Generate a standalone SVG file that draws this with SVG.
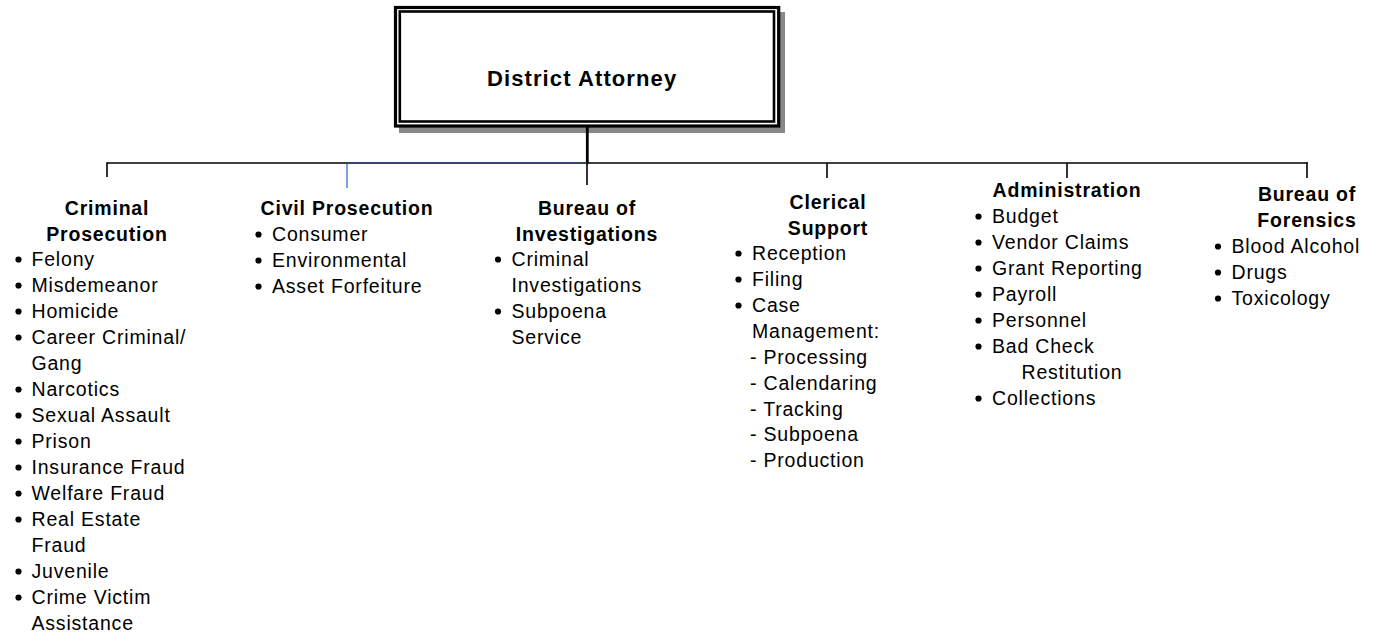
<svg xmlns="http://www.w3.org/2000/svg" width="1376" height="633" viewBox="0 0 1376 633">
<style>
  text { font-family: "Liberation Sans", Arial, sans-serif; fill: #000; }
  .h { font-size: 19.5px; font-weight: bold; letter-spacing: 0.8px; text-anchor: middle; }
  .t { font-size: 19.5px; letter-spacing: 0.8px; }
  .title { font-size: 22px; font-weight: bold; letter-spacing: 1.1px; }
  .ln { stroke: #000; stroke-width: 1.6; fill: none; }
  .bu { fill: #000; }
</style>
<defs>
  <circle id="dot" r="3.1" class="bu"/>
</defs>
<rect width="1376" height="633" fill="#fff"/>

<g id="district-attorney">
  <rect x="399" y="12" width="386" height="121" fill="#888"/>
  <rect x="395.5" y="7.5" width="383.2" height="118.5" fill="#fff" stroke="#000" stroke-width="3.2"/>
  <rect x="399.8" y="11.5" width="374.2" height="110" fill="#fff" stroke="#000" stroke-width="2.6"/>
  <text class="title" x="487" y="86">District Attorney</text>
</g>

<g id="connectors">
  <line x1="587.3" y1="127" x2="587.3" y2="163.5" stroke="#000" stroke-width="2.8"/>
  <line class="ln" x1="107" y1="163" x2="347" y2="163" stroke="#222"/>
  <line x1="347" y1="163" x2="587" y2="163" stroke="#34466e" stroke-width="1.8"/>
  <line class="ln" x1="587" y1="163" x2="1307.5" y2="163"/>
  <line class="ln" x1="107" y1="162.2" x2="107" y2="177"/>
  <line x1="347" y1="164" x2="347" y2="188" stroke="#5b8bd4" stroke-width="1.6"/>
  <line class="ln" x1="587" y1="163" x2="587" y2="185" stroke-width="1.4"/>
  <line class="ln" x1="827" y1="163" x2="827" y2="178"/>
  <line class="ln" x1="1067" y1="163" x2="1067" y2="178"/>
  <line class="ln" x1="1307" y1="162.2" x2="1307" y2="178"/>
</g>

<g id="criminal-prosecution">
  <text class="h" x="107" y="215">Criminal</text>
  <text class="h" x="107" y="241">Prosecution</text>
  <use href="#dot" x="18.5" y="259.5"/><text class="t" x="31.5" y="266">Felony</text>
  <use href="#dot" x="18.5" y="285.5"/><text class="t" x="31.5" y="292">Misdemeanor</text>
  <use href="#dot" x="18.5" y="311.5"/><text class="t" x="31.5" y="318">Homicide</text>
  <use href="#dot" x="18.5" y="337.5"/><text class="t" x="31.5" y="344">Career Criminal/</text>
  <text class="t" x="31.5" y="370">Gang</text>
  <use href="#dot" x="18.5" y="389.5"/><text class="t" x="31.5" y="396">Narcotics</text>
  <use href="#dot" x="18.5" y="415.5"/><text class="t" x="31.5" y="422">Sexual Assault</text>
  <use href="#dot" x="18.5" y="441.5"/><text class="t" x="31.5" y="448">Prison</text>
  <use href="#dot" x="18.5" y="467.5"/><text class="t" x="31.5" y="474">Insurance Fraud</text>
  <use href="#dot" x="18.5" y="493.5"/><text class="t" x="31.5" y="500">Welfare Fraud</text>
  <use href="#dot" x="18.5" y="519.5"/><text class="t" x="31.5" y="526">Real Estate</text>
  <text class="t" x="31.5" y="552">Fraud</text>
  <use href="#dot" x="18.5" y="571.5"/><text class="t" x="31.5" y="578">Juvenile</text>
  <use href="#dot" x="18.5" y="597.5"/><text class="t" x="31.5" y="604">Crime Victim</text>
  <text class="t" x="31.5" y="630">Assistance</text>
</g>

<g id="civil-prosecution">
  <text class="h" x="347" y="215">Civil Prosecution</text>
  <use href="#dot" x="258.5" y="234.5"/><text class="t" x="272" y="241">Consumer</text>
  <use href="#dot" x="258.5" y="260.5"/><text class="t" x="272" y="267">Environmental</text>
  <use href="#dot" x="258.5" y="286.5"/><text class="t" x="272" y="293">Asset Forfeiture</text>
</g>

<g id="bureau-of-investigations">
  <text class="h" x="587" y="215">Bureau of</text>
  <text class="h" x="587" y="241">Investigations</text>
  <use href="#dot" x="498" y="259.5"/><text class="t" x="511.5" y="266">Criminal</text>
  <text class="t" x="511.5" y="292">Investigations</text>
  <use href="#dot" x="498" y="311.5"/><text class="t" x="511.5" y="318">Subpoena</text>
  <text class="t" x="511.5" y="344">Service</text>
</g>

<g id="clerical-support">
  <text class="h" x="828" y="209">Clerical</text>
  <text class="h" x="828" y="235">Support</text>
  <use href="#dot" x="738.5" y="253.5"/><text class="t" x="752" y="260">Reception</text>
  <use href="#dot" x="738.5" y="279.5"/><text class="t" x="752" y="286">Filing</text>
  <use href="#dot" x="738.5" y="305.5"/><text class="t" x="752" y="312">Case</text>
  <text class="t" x="752" y="338">Management:</text>
  <text class="t" x="750" y="364">- Processing</text>
  <text class="t" x="750" y="390">- Calendaring</text>
  <text class="t" x="750" y="416">- Tracking</text>
  <text class="t" x="750" y="441">- Subpoena</text>
  <text class="t" x="750" y="467">- Production</text>
</g>

<g id="administration">
  <text class="h" x="1067" y="197">Administration</text>
  <use href="#dot" x="978.5" y="216.5"/><text class="t" x="992" y="223">Budget</text>
  <use href="#dot" x="978.5" y="242.5"/><text class="t" x="992" y="249">Vendor Claims</text>
  <use href="#dot" x="978.5" y="268.5"/><text class="t" x="992" y="275">Grant Reporting</text>
  <use href="#dot" x="978.5" y="294.5"/><text class="t" x="992" y="301">Payroll</text>
  <use href="#dot" x="978.5" y="320.5"/><text class="t" x="992" y="327">Personnel</text>
  <use href="#dot" x="978.5" y="346.5"/><text class="t" x="992" y="353">Bad Check</text>
  <text class="t" x="1021.5" y="379">Restitution</text>
  <use href="#dot" x="978.5" y="398.5"/><text class="t" x="992" y="405">Collections</text>
</g>

<g id="bureau-of-forensics">
  <text class="h" x="1307" y="201">Bureau of</text>
  <text class="h" x="1307" y="227">Forensics</text>
  <use href="#dot" x="1218" y="246.5"/><text class="t" x="1231.5" y="253">Blood Alcohol</text>
  <use href="#dot" x="1218" y="272.5"/><text class="t" x="1231.5" y="279">Drugs</text>
  <use href="#dot" x="1218" y="298.5"/><text class="t" x="1231.5" y="305">Toxicology</text>
</g>
</svg>
